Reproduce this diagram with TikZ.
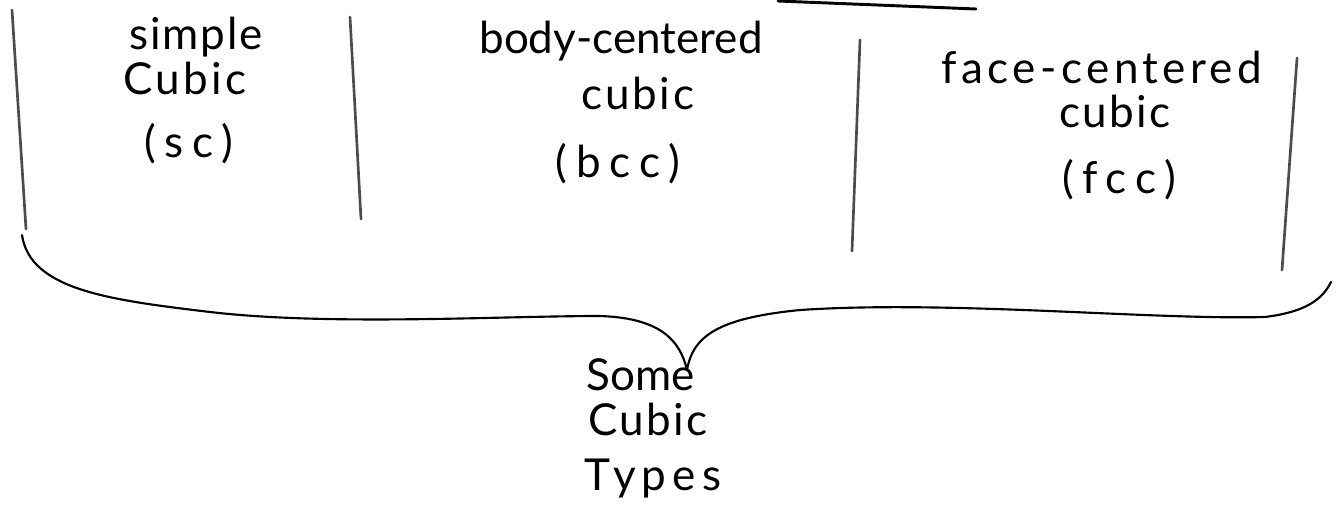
\documentclass[tikz,border=0pt]{standalone}
\usepackage{fontspec}
\setmainfont{Lato}
\newcommand{\spaced}[2]{{\addfontfeatures{LetterSpace=#1}#2}}
\begin{document}
\begin{tikzpicture}[x=0.75pt,y=-0.75pt,
  lbl/.style={anchor=base,inner sep=0pt,font=\fontsize{33}{36}\selectfont},
  divider/.style={line width=2pt,black!70,line cap=round},
  bracestroke/.style={line width=1.6pt,black,line cap=round,line join=round},
  topstroke/.style={line width=2.2pt,black,line cap=round}]
\useasboundingbox (0,0) rectangle (1341,506);

% short rule along the top edge
\coordinate (t1) at (778,1);
\coordinate (t2) at (976,9);
\draw[topstroke] (t1) -- (t2);

% dividers between the three lattice columns
\coordinate (d1a) at (12,10);   \coordinate (d1b) at (26,229);
\coordinate (d2a) at (350,17);  \coordinate (d2b) at (361,219);
\coordinate (d3a) at (860,40);  \coordinate (d3b) at (852,251);
\coordinate (d4a) at (1297,58); \coordinate (d4b) at (1282,270);
\draw[divider] (d1a) -- (d1b);
\draw[divider] (d2a) -- (d2b);
\draw[divider] (d3a) -- (d3b);
\draw[divider] (d4a) -- (d4b);

% column labels
\node[lbl] (sc1) at (196,50)  {\spaced{4}{simple}};
\node[lbl] (sc2) at (185,95)  {\spaced{8}{Cubic}};
\node[lbl] (sc3) at (189,157) {\spaced{20}{(sc)}};

\node[lbl] (bcc1) at (621,54)  {body-centered};
\node[lbl] (bcc2) at (638,110) {\spaced{6}{cubic}};
\node[lbl] (bcc3) at (618,177) {\spaced{20}{(bcc)}};

\node[lbl] (fcc1) at (1102,84)  {\spaced{10}{face-centered}};
\node[lbl] (fcc2) at (1115,128) {\spaced{5}{cubic}};
\node[lbl] (fcc3) at (1119,193) {\spaced{20}{(fcc)}};

% caption under the brace
\node[lbl] (cap1) at (641,390) {Some};
\node[lbl] (cap2) at (648,435) {\spaced{5}{Cubic}};
\node[lbl] (cap3) at (653,490) {\spaced{14}{Types}};

% curly brace gathering the three columns
\coordinate (bl) at (22,235);
\coordinate (bm) at (687,370);
\coordinate (br) at (1331,282);
\draw[bracestroke] (bl)
  .. controls (30,290) and (110,300) .. (210,312)
  .. controls (330,326) and (500,316) .. (600,316)
  .. controls (660,318) and (680,340) .. (bm);
\draw[bracestroke] (bm)
  .. controls (693,335) and (720,318) .. (800,310)
  .. controls (950,300) and (1150,320) .. (1265,317)
  .. controls (1305,312) and (1322,300) .. (br);
\end{tikzpicture}
\end{document}
